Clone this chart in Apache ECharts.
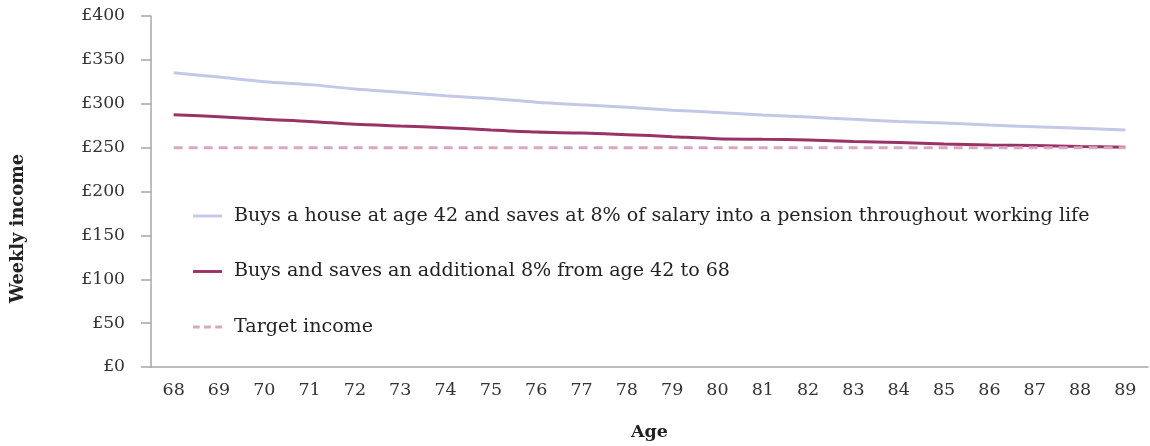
<!DOCTYPE html>
<html><head><meta charset="utf-8">
<script src="https://cdn.jsdelivr.net/npm/echarts@6/dist/echarts.min.js"></script>
<style>html,body{margin:0;padding:0;background:#fff}#c{width:1150px;height:446px}</style>
</head><body><div id="c"></div>
<script>
const ages = ['68','69','70','71','72','73','74','75','76','77','78','79','80','81','82','83','84','85','86','87','88','89'];
const buysHouse = [335.4,330.4,325.2,321.8,316.9,313.1,309.0,305.9,301.8,298.8,296.0,292.7,290.1,287.1,284.8,282.2,279.9,278.0,275.7,273.9,272.0,270.0];
const buysAndSaves = [287.5,285.2,282.2,279.9,276.5,274.6,272.7,270.0,267.7,266.6,264.8,262.5,260.2,259.5,258.7,256.9,255.7,254.2,253.1,252.3,251.2,250.5];
const target = [250,250,250,250,250,250,250,250,250,250,250,250,250,250,250,250,250,250,250,250,250,250];
const names = ['Buys a house at age 42 and saves at 8% of salary into a pension throughout working life','Buys and saves an additional 8% from age 42 to 68','Target income'];

const FONT = '"DejaVu Serif", "Liberation Serif", serif';
const solidIcon = 'path://M0,0 L30,0 L30,3 L0,3 Z';
const dashIcon = 'path://M0,0 L7,0 L7,3 L0,3 Z M11.5,0 L18.5,0 L18.5,3 L11.5,3 Z M23,0 L30,0 L30,3 L23,3 Z';
const chart = echarts.init(document.getElementById('c'), null, {renderer:'canvas'});
chart.setOption({
  animation:false,
  grid:{left:151, right:2, top:16, bottom:77, containLabel:false},
  legend:{
    orient:'vertical', left:188, top:201, itemGap:35.5, itemWidth:29, itemHeight:3,
    textStyle:{fontFamily:FONT, fontSize:19.1, lineHeight:20, color:'#222', padding:[0,0,0,7]},
    data:[{name:names[0], icon:solidIcon},{name:names[1], icon:solidIcon},{name:names[2], icon:dashIcon}]
  },
  xAxis:{
    type:'category', data:ages, boundaryGap:true,
    name:'Age', nameLocation:'middle', nameGap:56,
    nameTextStyle:{fontFamily:FONT, fontSize:17.5, fontWeight:'bold', color:'#222'},
    axisLine:{lineStyle:{color:'#a6a6a6', width:1.5}},
    axisTick:{show:false},
    axisLabel:{fontFamily:FONT, fontSize:17.5, color:'#333', margin:14}
  },
  yAxis:{
    type:'value', min:0, max:400, interval:50,
    name:'Weekly income', nameLocation:'middle', nameGap:124, nameRotate:90,
    nameTextStyle:{fontFamily:FONT, fontSize:17.8, fontWeight:'bold', color:'#222', padding:[0,74,0,0]},
    axisLine:{show:true, lineStyle:{color:'#a6a6a6', width:1.5}},
    axisTick:{show:true, length:10, inside:false, lineStyle:{color:'#a6a6a6', width:1.5}},
    splitLine:{show:false},
    axisLabel:{fontFamily:FONT, fontSize:17.2, color:'#333', margin:26, formatter:v=>'£'+v}
  },
  series:[
    {name:names[0], type:'line', data:buysHouse, symbol:'none', smooth:0.3,
     lineStyle:{color:'#c3c8e6', width:3}, itemStyle:{color:'#c3c8e6'}},
    {name:names[1], type:'line', data:buysAndSaves, symbol:'none', smooth:0.3,
     lineStyle:{color:'#993366', width:3}, itemStyle:{color:'#993366'}},
    {name:names[2], type:'line', data:target, symbol:'none',
     lineStyle:{color:'#d8a8c2', width:3, type:[9,6]}, itemStyle:{color:'#d8a8c2'}}
  ]
});
</script></body></html>
